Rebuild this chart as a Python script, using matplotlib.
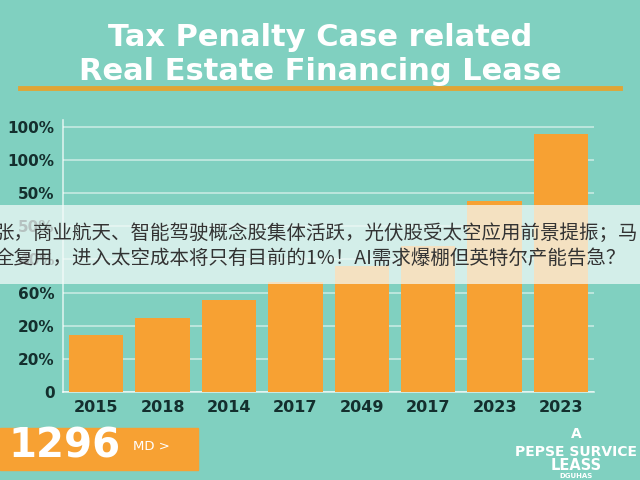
import matplotlib.pyplot as plt
from matplotlib.patches import Rectangle
from matplotlib.lines import Line2D

plt.rcParams['font.family'] = ['DejaVu Sans']

# values (in grid steps, 0..8)
years = ["2015", "2018", "2014", "2017", "2049", "2017", "2023", "2023"]
values = [1.73, 2.24, 2.79, 3.33, 3.79, 4.39, 5.76, 7.79]
ytick_pos = [0, 1, 2, 3, 4, 5, 6, 7, 8]
ytick_labels = ["0", "20%", "20%", "60%", "40%", "50%", "50%", "100%", "100%"]

title_lines = ["Tax Penalty Case related", "Real Estate Financing Lease"]
banner_lines = [
    "张，商业航天、智能驾驶概念股集体活跃，光伏股受太空应用前景提振；马",
    "全复用，进入太空成本将只有目前的1%！AI需求爆棚但英特尔产能告急？",
]

BG = "#80d0c0"
ORANGE = "#f7a133"
DARK = "#142f2e"

fig = plt.figure(figsize=(6.4, 4.8), dpi=100, facecolor=BG)
ax = fig.add_axes([0.0985, 0.183, 0.83, 0.567])
ax.set_facecolor(BG)

x = range(len(years))
ax.bar(x, values, width=0.82, color=ORANGE, zorder=3)
ax.set_xlim(-0.5, len(years) - 0.5)
ax.set_ylim(0, 8.2)
ax.set_xticks(list(x))
ax.set_xticklabels(years, fontsize=11.5, fontweight="bold", color=DARK)
ax.set_yticks(ytick_pos)
ax.set_yticklabels(ytick_labels, fontsize=11, fontweight="bold", color=DARK)
ax.tick_params(length=0, pad=6)
ax.yaxis.grid(True, color="white", alpha=0.55, lw=1.2, zorder=1)
for side in ["top", "right"]:
    ax.spines[side].set_visible(False)
for side in ["left", "bottom"]:
    ax.spines[side].set_color("white")
    ax.spines[side].set_alpha(0.7)
    ax.spines[side].set_linewidth(1.2)

# title and underline
fig.text(0.5, 1 - 37 / 480, title_lines[0], ha="center", va="center",
         fontsize=22, fontweight="bold", color="white")
fig.text(0.5, 1 - 72 / 480, title_lines[1], ha="center", va="center",
         fontsize=22, fontweight="bold", color="white")
fig.add_artist(Line2D([20 / 640, 620 / 640], [1 - 88 / 480, 1 - 88 / 480],
                      color="#e0a536", lw=3.5))

# bottom-left orange box
fig.patches.append(Rectangle((0, 1 - 470 / 480), 198 / 640, 42 / 480,
                             transform=fig.transFigure, color=ORANGE, zorder=2))
fig.text(8 / 640, 1 - 447 / 480, "1296", ha="left", va="center",
         fontsize=29, fontweight="bold", color="white", zorder=3)
fig.text(133 / 640, 1 - 447 / 480, "MD >", ha="left", va="center",
         fontsize=9.5, color="white", zorder=3)

# bottom-right text
for txt, yy, fs in [("A", 434, 10), ("PEPSE SURVICE", 452, 10),
                    ("LEASS", 466, 10.5), ("DGUHAS", 476, 5)]:
    fig.text(576 / 640, 1 - yy / 480, txt, ha="center", va="center",
             fontsize=fs, fontweight="bold", color="white")

# translucent news banner on top
fig.patches.append(Rectangle((0, 1 - 284 / 480), 1, 79 / 480,
                             transform=fig.transFigure, facecolor="#f4fbf9",
                             alpha=0.72, zorder=10))
for line, yy in zip(banner_lines, [233, 258]):
    fig.text(-6 / 640, 1 - yy / 480, line, ha="left", va="center",
             fontsize=14, color="#333333", zorder=11,
             family=["Noto Sans CJK SC", "DejaVu Sans"])

fig.savefig("out.png", dpi=100, facecolor=BG)
